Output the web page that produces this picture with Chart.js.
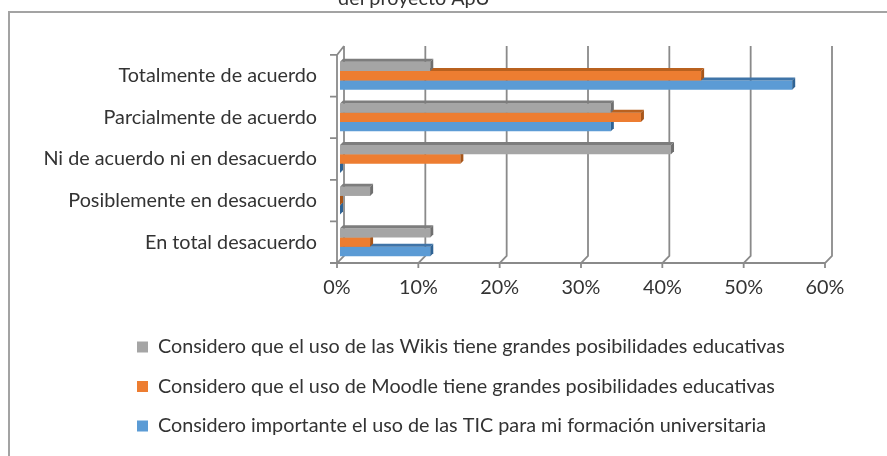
<!DOCTYPE html>
<html lang="es">
<head>
    <meta charset="UTF-8">
    <title>Valoración del proyecto ApU</title>
    <script src="https://cdn.jsdelivr.net/npm/chart.js"></script>
    <style>
        html, body { margin: 0; padding: 0; background: #fff; overflow: hidden; }
        #page { position: relative; width: 887px; height: 456px; overflow: hidden; }
        #frame {
            position: absolute; left: 8px; top: 11px; width: 900px; height: 470px;
            border-top: 2px solid #a3a3a3; border-left: 2px solid #a3a3a3;
        }
        #wrap { position: absolute; left: 0; top: -11px; width: 887px; height: 467px; }
    </style>
</head>
<body>
<div id="page">
    <div id="frame"></div>
    <div id="wrap"><canvas id="apuChart" width="887" height="467"></canvas></div>
</div>
<script>
    // categorías (de arriba hacia abajo)
    const categories = [
        'Totalmente de acuerdo',
        'Parcialmente de acuerdo',
        'Ni de acuerdo ni en desacuerdo',
        'Posiblemente en desacuerdo',
        'En total desacuerdo'
    ];

    const seriesNames = [
        'Considero que el uso de las Wikis tiene grandes posibilidades educativas',
        'Considero que el uso de Moodle tiene grandes posibilidades educativas',
        'Considero importante el uso de las TIC para mi formación universitaria'
    ];

    // porcentajes
    const wikis  = [11.1, 33.3, 40.7, 3.7, 11.1];
    const moodle = [44.4, 37.0, 14.8, 0, 3.7];
    const tic    = [55.6, 33.3, 0, 0, 11.1];

    const xTicks = [0, 10, 20, 30, 40, 50, 60];

    const FONT = 'Lato';
    const SIZE = 19.8;
    const TEXT = '#333333';
    const GRID = '#8a8a8a';

    // pseudo 3D: paredes y rejilla con un pequeño desplazamiento
    const FRONT = -3, BACK = 4, DEPTH_Y = 8;

    const wall3d = {
        id: 'wall3d',
        beforeDatasetsDraw(chart) {
            const ctx = chart.ctx;
            const xs = chart.scales.x, ys = chart.scales.y, a = chart.chartArea;
            const x0 = xs.getPixelForValue(xTicks[0]);
            const xN = xs.getPixelForValue(xTicks[xTicks.length - 1]);
            ctx.save();
            ctx.strokeStyle = GRID;
            ctx.lineWidth = 1.8;
            ctx.beginPath();
            // borde frontal del suelo
            ctx.moveTo(x0 + FRONT, a.bottom);
            ctx.lineTo(xN + FRONT, a.bottom);
            xTicks.forEach(v => {
                const px = xs.getPixelForValue(v);
                ctx.moveTo(px + FRONT, a.bottom + 5);
                ctx.lineTo(px + FRONT, a.bottom);
                ctx.lineTo(px + BACK, a.bottom - DEPTH_Y + 1);
                ctx.lineTo(px + BACK, a.top - DEPTH_Y - 1);
            });
            // pared izquierda
            ctx.moveTo(x0 + FRONT, a.bottom);
            ctx.lineTo(x0 + FRONT, a.top);
            ctx.lineTo(x0 + BACK, a.top - DEPTH_Y - 1);
            for (let i = 0; i <= categories.length; i++) {
                const py = ys.getPixelForValue(i - 0.5);
                ctx.moveTo(x0 + FRONT - 7, py);
                ctx.lineTo(x0 + FRONT, py);
            }
            ctx.stroke();
            ctx.restore();
        }
    };

    const bars3d = {
        id: 'bars3d',
        afterDatasetDraw(chart, args) {
            const ds = chart.data.datasets[args.index];
            const ctx = chart.ctx;
            const d = 3;
            ctx.save();
            args.meta.data.forEach(bar => {
                const {x, y, base, height} = bar.getProps(['x', 'y', 'base', 'height'], true);
                const top = y - height / 2, bottom = y + height / 2;
                ctx.fillStyle = ds.topColor;
                ctx.beginPath();
                ctx.moveTo(base, top);
                ctx.lineTo(x, top);
                ctx.lineTo(x + d, top - d);
                ctx.lineTo(base + d, top - d);
                ctx.closePath();
                ctx.fill();
                ctx.fillStyle = ds.sideColor;
                ctx.beginPath();
                ctx.moveTo(x, top);
                ctx.lineTo(x + d, top - d);
                ctx.lineTo(x + d, bottom - d);
                ctx.lineTo(x, bottom);
                ctx.closePath();
                ctx.fill();
            });
            ctx.restore();
        }
    };

    // la leyenda empieza alineada a la izquierda en x = 137
    const legendLeft = {
        id: 'legendLeft',
        afterLayout(chart) {
            const lg = chart.legend;
            lg.left = 137 - lg.options.labels.padding;
        }
    };

    const ctx = document.getElementById('apuChart').getContext('2d');
    new Chart(ctx, {
        type: 'bar',
        data: {
            labels: categories,
            datasets: [
                { label: seriesNames[0], data: wikis,  backgroundColor: '#a5a5a5', topColor: '#7d7d7d', sideColor: '#6f6f6f' },
                { label: seriesNames[1], data: moodle, backgroundColor: '#ed7d31', topColor: '#b9611f', sideColor: '#a8561a' },
                { label: seriesNames[2], data: tic,    backgroundColor: '#5b9bd5', topColor: '#3f74a8', sideColor: '#2f6394' }
            ]
        },
        options: {
            indexAxis: 'y',
            responsive: false,
            animation: false,
            devicePixelRatio: 1,
            layout: { padding: { left: 0, right: 59, top: 0, bottom: 10.1 } },
            datasets: {
                bar: { categoryPercentage: 0.67, barPercentage: 1.0, borderWidth: 0 }
            },
            scales: {
                x: {
                    min: 0,
                    max: 60,
                    afterBuildTicks: s => { s.ticks = xTicks.map(v => ({ value: v })); },
                    afterFit: s => { s.height = 54.4; },
                    grid: { display: false, drawTicks: false },
                    border: { display: false },
                    ticks: {
                        padding: 13,
                        labelOffset: -3,
                        color: TEXT,
                        font: { family: FONT, size: SIZE },
                        callback: v => v + '%'
                    }
                },
                y: {
                    afterFit: s => { s.width = 340; },
                    grid: { display: false, drawTicks: false },
                    border: { display: false },
                    ticks: {
                        padding: 23,
                        color: TEXT,
                        font: { family: FONT, size: SIZE }
                    }
                }
            },
            plugins: {
                title: {
                    display: true,
                    text: 'del proyecto ApU',
                    color: TEXT,
                    font: { family: FONT, size: SIZE, weight: 'normal' },
                    padding: { top: -2, bottom: 44.2 }
                },
                legend: {
                    position: 'bottom',
                    align: 'start',
                    labels: {
                        boxWidth: 11,
                        boxHeight: 11,
                        padding: 19.7,
                        color: TEXT,
                        font: { family: FONT, size: SIZE }
                    }
                },
                tooltip: { enabled: false }
            }
        },
        plugins: [wall3d, bars3d, legendLeft]
    });
</script>
</body>
</html>
